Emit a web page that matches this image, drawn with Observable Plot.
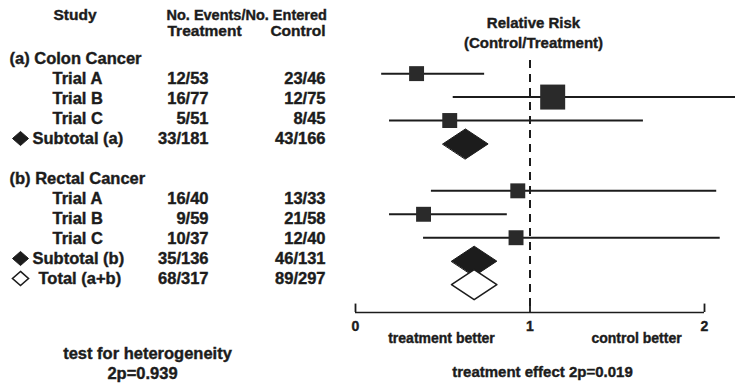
<!DOCTYPE html>
<html>
<head>
<meta charset="utf-8">
<script src="https://cdn.jsdelivr.net/npm/d3@7"></script>
<script src="https://cdn.jsdelivr.net/npm/@observablehq/plot@0.6"></script>
<style>
html, body { margin: 0; padding: 0; background: #fff; }
#chart { position: relative; width: 735px; height: 385px; overflow: hidden; background: #fff; }
#chart svg { position: absolute; left: 0; top: 0; }
#chart text { stroke: #1c1c1c; stroke-width: 0.4px; }
</style>
</head>
<body>
<div id="chart"></div>
<script>
// ---- data ----
const studyLabels = ["(a) Colon Cancer", "Trial A", "Trial B", "Trial C", "Subtotal (a)",
                     "(b) Rectal Cancer", "Trial A", "Trial B", "Trial C", "Subtotal (b)", "Total (a+b)"];
const rowKind = ["group", "trial", "trial", "trial", "subtotal",
                 "group", "trial", "trial", "trial", "subtotal", "total"];
const treatment = ["", "12/53", "16/77", "5/51", "33/181", "", "16/40", "9/59", "10/37", "35/136", "68/317"];
const control   = ["", "23/46", "12/75", "8/45", "43/166", "", "13/33", "21/58", "12/40", "46/131", "89/297"];
const relRisk   = [null, 0.35, 1.13, 0.54, 0.63, null, 0.93, 0.39, 0.92, 0.68, 0.68];
const ciLow     = [null, 0.15, 0.56, 0.195, 0.50, null, 0.435, 0.195, 0.39, 0.55, 0.55];
const ciHigh    = [null, 0.74, 2.40, 1.65, 0.76, null, 2.07, 0.87, 2.09, 0.81, 0.81];
const weight    = [null, 1, 2.8, 1, null, null, 1, 1, 1, null, null];
const axisTicks = [0, 1, 2];
const headStudy = "Study";
const headEvents = "No. Events/No. Entered";
const headTreat = "Treatment";
const headControl = "Control";
const rrTitle = "Relative Risk";
const rrSub = "(Control/Treatment)";
const leftNote = "treatment better";
const rightNote = "control better";
const effectNote = "treatment effect 2p=0.019";
const hetNote = "test for heterogeneity";
const hetP = "2p=0.939";

// ---- derived tables ----
const rows = studyLabels.map((label, i) => ({
  i, label, kind: rowKind[i], treat: treatment[i], ctrl: control[i],
  rr: relRisk[i], lo: ciLow[i], hi: ciHigh[i], w: weight[i],
  idx: i - 1 // forest row slot (header b occupies the gap slot)
}));
const trials = rows.filter(d => d.kind === "trial");
const subtotals = rows.filter(d => d.kind === "subtotal");
const totals = rows.filter(d => d.kind === "total");
const dataRows = rows.filter(d => d.kind !== "group");

const H = 0.64; // diamond half height in row units
const diamondPts = (arr) => arr.flatMap(d => [
  {x: d.lo, y: d.idx, key: d.label + d.i},
  {x: d.rr, y: d.idx - H, key: d.label + d.i},
  {x: d.hi, y: d.idx, key: d.label + d.i},
  {x: d.rr, y: d.idx + H, key: d.label + d.i}
]);

const FONT = '"Liberation Sans", Arial, Helvetica, sans-serif';
const ink = "#1c1c1c";
const yTop = -0.56, yBottom = 10.19;
const mid = {lineAnchor: "middle", textAnchor: "middle"};

const forest = Plot.plot({
  width: 735, height: 385,
  marginLeft: 355, marginRight: 31, marginTop: 60, marginBottom: 73,
  style: {fontFamily: FONT, fontWeight: "bold", fontSize: "14px", color: ink, background: "transparent"},
  x: {domain: [0, 2], ticks: axisTicks, tickSize: 0, tickPadding: 9, label: null, tickFormat: d => String(d)},
  y: {domain: [yTop, yBottom], reverse: true, axis: null},
  r: {type: "sqrt", domain: [0, 2.8], range: [0, 14.1]},
  marks: [
    Plot.ruleX([1], {stroke: ink, strokeWidth: 2, strokeDasharray: "8,6"}),
    Plot.ruleY([yBottom], {x1: 0, x2: 2, stroke: ink, strokeWidth: 1.6}),
    Plot.ruleX(axisTicks, {y1: yBottom, y2: yBottom - 0.36, stroke: ink, strokeWidth: 1.8}),
    Plot.ruleY(trials, {y: "idx", x1: "lo", x2: "hi", stroke: ink, strokeWidth: 2}),
    Plot.dot(trials, {x: "rr", y: "idx", r: "w", symbol: "square", fill: "#2a2a2a", stroke: "none"}),
    Plot.line(diamondPts(subtotals), {x: "x", y: "y", z: "key", curve: "linear-closed", fill: ink, stroke: ink, strokeWidth: 1}),
    Plot.line(diamondPts(totals), {x: "x", y: "y", z: "key", curve: "linear-closed", fill: "white", stroke: ink, strokeWidth: 1.6}),
    Plot.text([rrTitle], {...mid, text: d => d, frameAnchor: "top-left", dx: 178, dy: -37, fontSize: 15}),
    Plot.text([rrSub], {...mid, text: d => d, frameAnchor: "top-left", dx: 178, dy: -17, fontSize: 15}),
    Plot.text([leftNote], {...mid, text: d => d, frameAnchor: "bottom-left", dx: 86, dy: 26, fontSize: 14}),
    Plot.text([rightNote], {...mid, text: d => d, frameAnchor: "bottom-left", dx: 281, dy: 26, fontSize: 14}),
    Plot.text([effectNote], {...mid, text: d => d, frameAnchor: "bottom-left", dx: 187, dy: 60, fontSize: 15})
  ]
});

// table (left side)
const tableDomain = [0, 1, 2, 3, 4, "gap", 5, 6, 7, 8, 9, 10];
const diamondSym = {
  draw(context, size) {
    const s = Math.sqrt(size / Math.PI);
    context.moveTo(0, -s * 0.88);
    context.lineTo(s, 0);
    context.lineTo(0, s * 0.88);
    context.lineTo(-s, 0);
    context.closePath();
  }
};

const table = Plot.plot({
  width: 340, height: 385, margin: 0,
  style: {fontFamily: FONT, fontWeight: "bold", fontSize: "16.5px", color: ink, background: "transparent"},
  y: {type: "point", domain: tableDomain, range: [57, 278.5], padding: 0, axis: null},
  marks: [
    Plot.text([headStudy], {text: d => d, frameAnchor: "top-left", lineAnchor: "middle", dx: 53, dy: 15, textAnchor: "start", fontSize: 15.5}),
    Plot.text([headEvents], {text: d => d, frameAnchor: "top-left", lineAnchor: "middle", dx: 166, dy: 15, textAnchor: "start", fontSize: 14.5}),
    Plot.text([headTreat], {text: d => d, frameAnchor: "top-left", lineAnchor: "middle", dx: 167, dy: 31, textAnchor: "start", fontSize: 15.5}),
    Plot.text([headControl], {text: d => d, frameAnchor: "top-left", lineAnchor: "middle", dx: 325, dy: 31, textAnchor: "end", fontSize: 15.5}),
    Plot.text(rows.filter(d => d.kind === "group"), {y: "i", text: "label", frameAnchor: "left", dx: 9, textAnchor: "start"}),
    Plot.text(trials, {y: "i", text: "label", frameAnchor: "left", dx: 52, textAnchor: "start"}),
    Plot.text(subtotals, {y: "i", text: "label", frameAnchor: "left", dx: 32, textAnchor: "start"}),
    Plot.text(totals, {y: "i", text: "label", frameAnchor: "left", dx: 38, textAnchor: "start"}),
    Plot.dot(subtotals, {y: "i", frameAnchor: "left", dx: 20, symbol: diamondSym, r: 8, fill: ink, stroke: ink, strokeWidth: 1}),
    Plot.dot(totals, {y: "i", frameAnchor: "left", dx: 20, symbol: diamondSym, r: 8, fill: "white", stroke: ink, strokeWidth: 1.6}),
    Plot.text(dataRows, {y: "i", text: "treat", frameAnchor: "left", dx: 208, textAnchor: "end"}),
    Plot.text(dataRows, {y: "i", text: "ctrl", frameAnchor: "left", dx: 325, textAnchor: "end"}),
    Plot.text([hetNote], {...mid, text: d => d, frameAnchor: "top-left", dx: 147, dy: 353}),
    Plot.text([hetP], {...mid, text: d => d, frameAnchor: "top-left", dx: 142, dy: 373})
  ]
});

const chart = document.getElementById("chart");
chart.appendChild(forest);
chart.appendChild(table);
</script>
</body>
</html>
